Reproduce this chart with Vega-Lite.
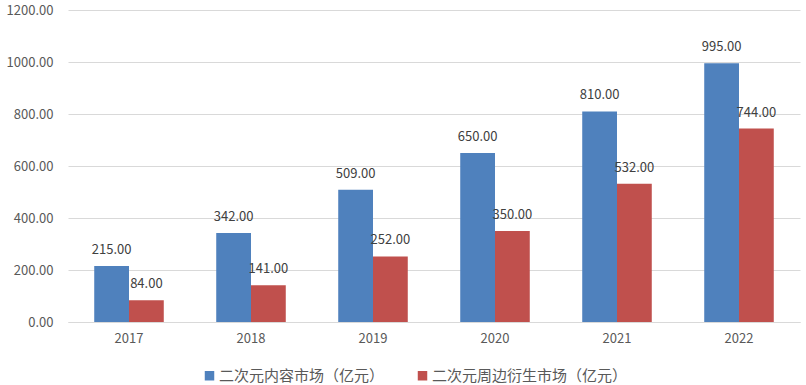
{
  "$schema": "https://vega.github.io/schema/vega-lite/v6.json",
  "width": 732,
  "height": 312,
  "autosize": {"type": "none"},
  "padding": {"left": 68, "top": 10, "right": 6, "bottom": 63},
  "background": "white",
  "config": {
    "view": {"stroke": null},
    "font": "Noto Sans CJK SC"
  },
  "data": {
    "values": [
      {"year": "2017", "series": "二次元内容市场（亿元）", "value": 215},
      {"year": "2017", "series": "二次元周边衍生市场（亿元）", "value": 84},
      {"year": "2018", "series": "二次元内容市场（亿元）", "value": 342},
      {"year": "2018", "series": "二次元周边衍生市场（亿元）", "value": 141},
      {"year": "2019", "series": "二次元内容市场（亿元）", "value": 509},
      {"year": "2019", "series": "二次元周边衍生市场（亿元）", "value": 252},
      {"year": "2020", "series": "二次元内容市场（亿元）", "value": 650},
      {"year": "2020", "series": "二次元周边衍生市场（亿元）", "value": 350},
      {"year": "2021", "series": "二次元内容市场（亿元）", "value": 810},
      {"year": "2021", "series": "二次元周边衍生市场（亿元）", "value": 532},
      {"year": "2022", "series": "二次元内容市场（亿元）", "value": 995},
      {"year": "2022", "series": "二次元周边衍生市场（亿元）", "value": 744}
    ]
  },
  "encoding": {
    "x": {
      "field": "year", "type": "nominal",
      "scale": {"paddingInner": 0.43, "paddingOuter": 0.215},
      "axis": {"title": null, "labelAngle": 0, "labelFontSize": 13, "labelColor": "#595959", "labelPadding": 10, "ticks": false, "domain": true, "domainColor": "#d9d9d9", "labelFont": "Noto Sans CJK SC"}
    },
    "xOffset": {"field": "series", "type": "nominal", "sort": ["二次元内容市场（亿元）", "二次元周边衍生市场（亿元）"], "scale": {"paddingInner": 0, "paddingOuter": 0}},
    "y": {
      "field": "value", "type": "quantitative",
      "scale": {"domain": [0, 1200]},
      "axis": {"title": null, "values": [0, 200, 400, 600, 800, 1000, 1200], "format": ".2f", "labelFontSize": 13, "labelColor": "#595959", "labelPadding": 15, "ticks": false, "domain": false, "gridColor": "#d9d9d9", "labelFont": "Noto Sans CJK SC"}
    }
  },
  "layer": [
    {
      "mark": {"type": "bar"},
      "encoding": {
        "color": {
          "field": "series", "type": "nominal",
          "sort": ["二次元内容市场（亿元）", "二次元周边衍生市场（亿元）"],
          "scale": {"range": ["#4F81BD", "#C0504D"]},
          "legend": {"title": null, "orient": "none", "direction": "horizontal", "legendX": 134, "legendY": 358, "symbolType": "square", "symbolSize": 90, "labelFontSize": 15, "labelColor": "#595959", "labelLimit": 0, "columnPadding": 30, "labelOffset": 2, "symbolStrokeWidth": 0}
        }
      }
    },
    {
      "mark": {"type": "text", "baseline": "middle", "dy": -16, "fontSize": 13, "color": "#404040"},
      "encoding": {
        "text": {"field": "value", "type": "quantitative", "format": ".2f"}
      }
    }
  ]
}
